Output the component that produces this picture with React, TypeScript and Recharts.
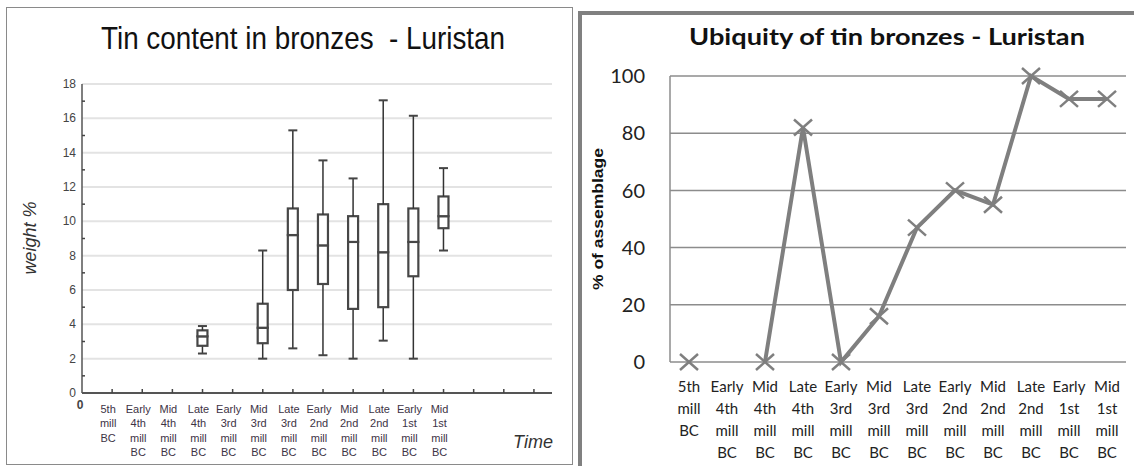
import React from 'react';
import { ComposedChart, Bar, Line, XAxis, YAxis, CartesianGrid } from 'recharts';

// Periods along the time axis (left: positions 1..12, right: categories)
const periods = [
  '5th mill BC',
  'Early 4th mill BC',
  'Mid 4th mill BC',
  'Late 4th mill BC',
  'Early 3rd mill BC',
  'Mid 3rd mill BC',
  'Late 3rd mill BC',
  'Early 2nd mill BC',
  'Mid 2nd mill BC',
  'Late 2nd mill BC',
  'Early 1st mill BC',
  'Mid 1st mill BC',
];

// Box plot of tin weight % (one entry per period that has samples)
const boxPos = [4, 6, 7, 8, 9, 10, 11, 12];
const whiskerLow = [2.3, 2.0, 2.6, 2.2, 2.0, 3.05, 2.0, 8.3];
const quartile1 = [2.75, 2.9, 6.0, 6.35, 4.9, 5.0, 6.8, 9.6];
const median = [3.3, 3.8, 9.2, 8.6, 8.8, 8.2, 8.8, 10.3];
const quartile3 = [3.65, 5.2, 10.75, 10.4, 10.3, 11.0, 10.75, 11.45];
const whiskerHigh = [3.9, 8.3, 15.3, 13.55, 12.5, 17.05, 16.15, 13.1];

// Ubiquity (% of assemblage) per period, null = no data
const ubiquity = [0, null, 0, 82, 0, 16, 47, 60, 55, 100, 92, 92];

const weightTicks = [0, 1, 2, 3, 4, 5, 6, 7, 8, 9, 10, 11, 12, 13, 14, 15, 16, 17, 18];
const weightGrid = [2, 4, 6, 8, 10, 12, 14, 16, 18];
const timeTicks = [0, 1, 2, 3, 4, 5, 6, 7, 8, 9, 10, 11, 12, 13, 14, 15];
const pctTicks = [0, 20, 40, 60, 80, 100];
const pctGrid = [20, 40, 60, 80, 100];

const boxData = boxPos.map((t, i) => ({
  t,
  base: whiskerLow[i],
  wLow: quartile1[i] - whiskerLow[i],
  bLow: median[i] - quartile1[i],
  bHigh: quartile3[i] - median[i],
  wHigh: whiskerHigh[i] - quartile3[i],
}));

const ubiquityData = periods.map((p, i) => ({ period: p, pct: ubiquity[i] }));

const ARIAL = '"Liberation Sans", Arial, sans-serif';
const CAL = 'Lato, "Liberation Sans", sans-serif';

const WhiskerLow = (p: any) => {
  const cx = p.x + p.width / 2;
  const yb = p.y + p.height;
  return (
    <g>
      <line x1={cx} x2={cx} y1={p.y} y2={yb} stroke="#333" strokeWidth={1.5} />
      <line x1={cx - 4.5} x2={cx + 4.5} y1={yb} y2={yb} stroke="#444" strokeWidth={2} />
    </g>
  );
};

const WhiskerHigh = (p: any) => {
  const cx = p.x + p.width / 2;
  return (
    <g>
      <line x1={cx} x2={cx} y1={p.y} y2={p.y + p.height} stroke="#333" strokeWidth={1.5} />
      <line x1={cx - 4.5} x2={cx + 4.5} y1={p.y} y2={p.y} stroke="#444" strokeWidth={2} />
    </g>
  );
};

const BoxPart = (p: any) => (
  <rect x={p.x} y={p.y} width={p.width} height={p.height} fill="#fff" stroke="#474747" strokeWidth={2.2} />
);

const Hidden = () => null;

const WeightTick = (p: any) => {
  const v = p.payload.value;
  if (v % 2 === 1) {
    return <line x1={p.x} x2={p.x + 3} y1={p.y} y2={p.y} stroke="#444" strokeWidth={1.5} />;
  }
  return (
    <text x={p.x - 6} y={p.y + 4} textAnchor="end" fontSize={12} fill="#444" fontFamily={ARIAL}>
      {v}
    </text>
  );
};

const TimeTick = (p: any) => {
  const v = p.payload.value;
  if (v === 0) {
    return (
      <text x={p.x - 2} y={p.y + 16} textAnchor="middle" fontSize={12} fontWeight="bold" fill="#444" fontFamily={ARIAL}>
        0
      </text>
    );
  }
  const label = periods[v - 1];
  const words = label ? label.split(' ') : [];
  return (
    <g>
      <line x1={p.x} x2={p.x} y1={p.y} y2={p.y - 4} stroke="#444" strokeWidth={1.5} />
      {words.map((w: string, i: number) => (
        <text key={i} x={p.x - 4} y={p.y + 20 + i * 14.3} textAnchor="middle" fontSize={11} fill="#3d3345" fontFamily={ARIAL}>
          {w}
        </text>
      ))}
    </g>
  );
};

const PeriodTick = (p: any) => {
  const words = String(p.payload.value).split(' ');
  return (
    <g>
      {words.map((w: string, i: number) => (
        <text key={i} x={p.x} y={p.y + 30 + i * 22} textAnchor="middle" fontSize={15} fill="#222" fontFamily={CAL}>
          {w}
        </text>
      ))}
    </g>
  );
};

const CrossDot = (p: any) => {
  if (p.cy == null || p.value == null) return null;
  const { cx, cy } = p;
  return (
    <g>
      <line x1={cx - 9} y1={cy - 8} x2={cx + 9} y2={cy + 8} stroke="#7f7f7f" strokeWidth={2.5} />
      <line x1={cx - 9} y1={cy + 8} x2={cx + 9} y2={cy - 8} stroke="#7f7f7f" strokeWidth={2.5} />
    </g>
  );
};

export default function App() {
  return (
    <div style={{ position: 'absolute', left: 0, top: 0, width: 1134, height: 466, background: '#fff', overflow: 'hidden' }}>
      {/* left panel */}
      <div style={{ position: 'absolute', left: 6, top: 7, width: 565, height: 456, border: '1.5px solid #8a8a8a' }} />
      <div style={{ position: 'absolute', left: 0, top: 0 }}>
        <ComposedChart width={572} height={466} data={boxData} margin={{ top: 84, right: 20, bottom: 13, left: 42 }}>
          <CartesianGrid vertical={false} horizontalValues={weightGrid} stroke="#e3e3e3" strokeWidth={2} />
          <XAxis
            dataKey="t"
            type="number"
            domain={[0, 15.6]}
            allowDataOverflow
            ticks={timeTicks}
            interval={0}
            tick={<TimeTick />}
            tickLine={false}
            tickSize={0}
            tickMargin={0}
            height={60}
            axisLine={{ stroke: '#555', strokeWidth: 2 }}
          />
          <YAxis
            type="number"
            domain={[0, 18]}
            ticks={weightTicks}
            interval={0}
            tick={<WeightTick />}
            tickLine={false}
            tickSize={0}
            tickMargin={0}
            width={40}
            axisLine={{ stroke: '#555', strokeWidth: 1.5 }}
          />
          <Bar dataKey="base" stackId="b" barSize={10} shape={<Hidden />} isAnimationActive={false} />
          <Bar dataKey="wLow" stackId="b" barSize={10} shape={<WhiskerLow />} isAnimationActive={false} />
          <Bar dataKey="bLow" stackId="b" barSize={10} shape={<BoxPart />} isAnimationActive={false} />
          <Bar dataKey="bHigh" stackId="b" barSize={10} shape={<BoxPart />} isAnimationActive={false} />
          <Bar dataKey="wHigh" stackId="b" barSize={10} shape={<WhiskerHigh />} isAnimationActive={false} />
        </ComposedChart>
      </div>

      {/* right panel */}
      <div style={{ position: 'absolute', left: 578, top: 11, width: 600, height: 500, border: '4px solid #808080' }} />
      <div style={{ position: 'absolute', left: 579, top: 0 }}>
        <ComposedChart width={555} height={466} data={ubiquityData} margin={{ top: 76, right: 8, bottom: 4, left: 31 }}>
          <CartesianGrid vertical={false} horizontalValues={pctGrid} stroke="#8c8c8c" strokeWidth={1.5} />
          <XAxis
            dataKey="period"
            scale="band"
            interval={0}
            tick={<PeriodTick />}
            tickLine={false}
            tickSize={0}
            tickMargin={0}
            height={100}
            axisLine={{ stroke: '#8c8c8c', strokeWidth: 1.5 }}
          />
          <YAxis
            type="number"
            domain={[0, 100]}
            ticks={pctTicks}
            interval={0}
            tickLine={false}
            tickSize={0}
            tickMargin={25}
            width={60}
            tick={{ fontSize: 20, fill: '#222', fontFamily: CAL }}
            axisLine={{ stroke: '#8c8c8c', strokeWidth: 1.5 }}
          />
          <Line
            dataKey="pct"
            type="linear"
            stroke="#7f7f7f"
            strokeWidth={4}
            dot={<CrossDot />}
            activeDot={false}
            connectNulls={false}
            isAnimationActive={false}
          />
        </ComposedChart>
      </div>

      {/* titles and axis captions */}
      <svg width={1134} height={466} style={{ position: 'absolute', left: 0, top: 0, pointerEvents: 'none' }}>
        <text x={303} y={49} textAnchor="middle" fontFamily={ARIAL} fontSize={32} fill="#111" textLength={404} lengthAdjust="spacingAndGlyphs">
          {'Tin content in bronzes\u00a0 - Luristan'}
        </text>
        <text x={0} y={0} transform="translate(36 238) rotate(-90)" textAnchor="middle" fontFamily={ARIAL} fontStyle="italic" fontSize={18} fill="#333">
          weight %
        </text>
        <text x={533} y={448} textAnchor="middle" fontFamily={ARIAL} fontStyle="italic" fontSize={18} fill="#333">
          Time
        </text>
        <text x={887} y={45} textAnchor="middle" fontFamily={CAL} fontWeight="bold" fontSize={22} fill="#111" textLength={396} lengthAdjust="spacingAndGlyphs">
          Ubiquity of tin bronzes - Luristan
        </text>
        <text x={0} y={0} transform="translate(603 219) rotate(-90)" textAnchor="middle" fontFamily={ARIAL} fontWeight="bold" fontSize={15} fill="#111" textLength={142} lengthAdjust="spacingAndGlyphs">
          % of assemblage
        </text>
      </svg>
    </div>
  );
}
